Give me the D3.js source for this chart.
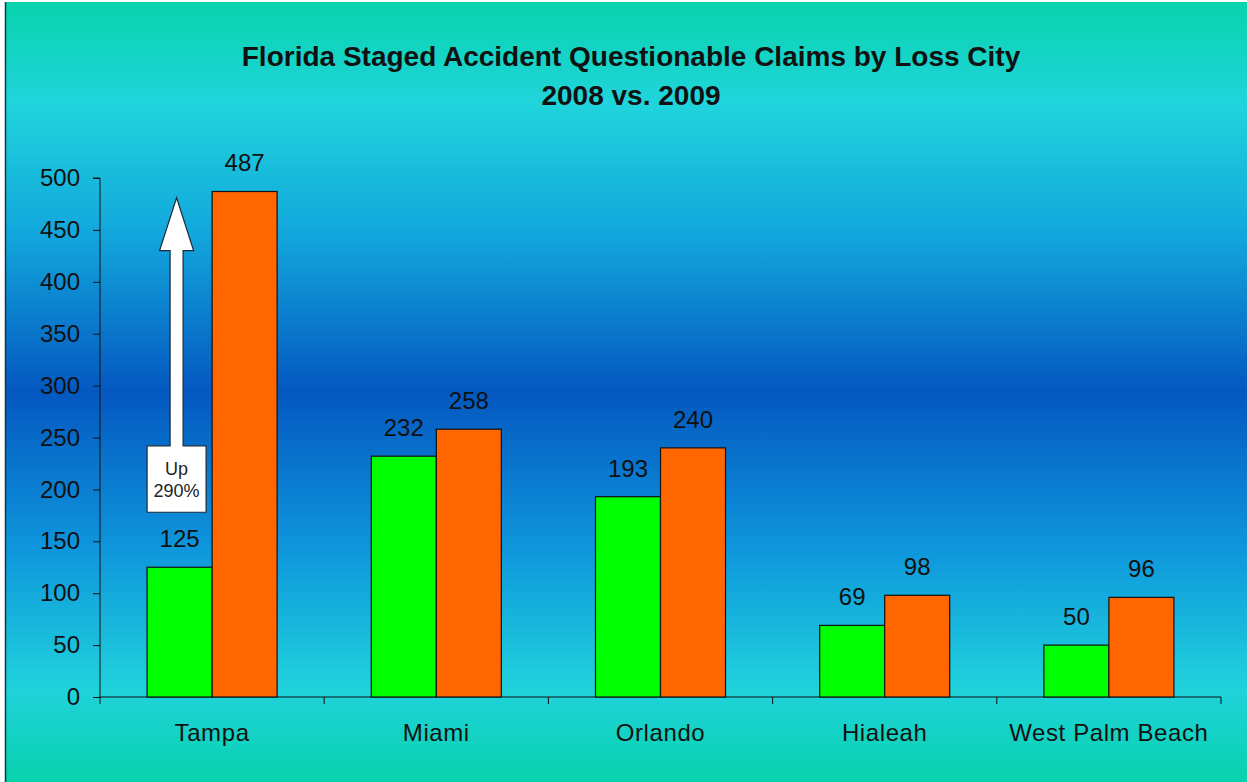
<!DOCTYPE html>
<html>
<head>
<meta charset="utf-8">
<script src="https://cdn.jsdelivr.net/npm/d3@7"></script>
<style>
  html, body { margin: 0; padding: 0; background: #fff; }
  svg { display: block; font-family: Arial, "Liberation Sans", sans-serif; }
</style>
</head>
<body>
<svg id="chart" width="1247" height="782"></svg>
<script>
// Questionable claims per loss city, 2008 vs 2009
const cities = ["Tampa", "Miami", "Orlando", "Hialeah", "West Palm Beach"];
const years = ["2008", "2009"];
const claims2008 = [125, 232, 193, 69, 50];
const claims2009 = [487, 258, 240, 98, 96];
const yTicks = [0, 50, 100, 150, 200, 250, 300, 350, 400, 450, 500];
const titleLines = ["Florida Staged Accident Questionable Claims by Loss City", "2008 vs. 2009"];
const calloutLines = ["Up", "290%"];

const W = 1247, H = 782;
const margin = { left: 100, right: 26, top: 178, bottom: 85 };
const svg = d3.select("#chart");

// Background gradient: teal at the edges, deep blue across the middle
const defs = svg.append("defs");
const grad = defs.append("linearGradient")
  .attr("id", "bg").attr("x1", 0).attr("y1", 0).attr("x2", 0).attr("y2", 1);
[
  [0, "#08d4ac"], [0.13, "#20d4dc"], [0.3, "#12a6dc"], [0.5, "#0458c0"],
  [0.7, "#0e96dc"], [0.88, "#20d2dc"], [1, "#08d2ac"]
].forEach(([o, c]) => grad.append("stop").attr("offset", o).attr("stop-color", c));

svg.append("rect").attr("x", 5).attr("y", 2).attr("width", W - 5).attr("height", H - 2)
  .attr("fill", "url(#bg)");
svg.append("line").attr("x1", 5.5).attr("x2", 5.5).attr("y1", 2).attr("y2", H)
  .attr("stroke", "#0a3a4a").attr("stroke-width", 1.5);

const x0 = d3.scaleBand().domain(cities)
  .range([margin.left, W - margin.right]).paddingInner(0.42).paddingOuter(0.21);
const x1 = d3.scaleBand().domain(years).range([0, x0.bandwidth()]);
const y = d3.scaleLinear().domain([0, 500]).range([H - margin.bottom, margin.top]);

// Title
svg.append("text").attr("x", 631).attr("y", 66).attr("text-anchor", "middle")
  .attr("font-size", 28).attr("font-weight", "bold").attr("fill", "#111")
  .text(titleLines[0]);
svg.append("text").attr("x", 631).attr("y", 105).attr("text-anchor", "middle")
  .attr("font-size", 28).attr("font-weight", "bold").attr("fill", "#111")
  .text(titleLines[1]);

// Y axis
const yAxis = d3.axisLeft(y).tickValues(yTicks).tickSize(7).tickPadding(13);
const gy = svg.append("g").attr("transform", `translate(${margin.left},0)`).call(yAxis);
gy.select(".domain").attr("stroke", "#111").attr("d", `M-7,${y(500)}H0V${y(0)}`);
gy.selectAll(".tick line").attr("stroke", "#111");
gy.selectAll(".tick text").attr("font-size", 24).attr("fill", "#111")
  .attr("font-family", "Arial, 'Liberation Sans', sans-serif");

// X axis with boundary ticks between categories
const gx = svg.append("g").attr("transform", `translate(0,${y(0)})`);
gx.append("line").attr("x1", margin.left).attr("x2", W - margin.right)
  .attr("stroke", "#111").attr("stroke-width", 1);
const step = x0.step();
const bounds = d3.range(cities.length + 1).map(i => margin.left + i * step);
gx.selectAll(".bt").data(bounds).join("line")
  .attr("x1", d => d).attr("x2", d => d).attr("y1", 0).attr("y2", 7)
  .attr("stroke", "#111");
gx.selectAll(".cl").data(cities).join("text")
  .attr("x", d => x0(d) + x0.bandwidth() / 2).attr("y", 44)
  .attr("text-anchor", "middle").attr("font-size", 24).attr("letter-spacing", 0.6)
  .attr("fill", "#111")
  .text(d => d);

// Bars
const rows = cities.map((c, i) => ({ city: c, vals: [claims2008[i], claims2009[i]] }));
const colors = { "2008": "#00ff00", "2009": "#ff6600" };
const groups = svg.selectAll(".grp").data(rows).join("g")
  .attr("transform", d => `translate(${x0(d.city)},0)`);
groups.selectAll("rect").data(d => years.map((yr, j) => ({ yr, v: d.vals[j] }))).join("rect")
  .attr("x", d => x1(d.yr)).attr("width", x1.bandwidth())
  .attr("y", d => y(d.v)).attr("height", d => y(0) - y(d.v))
  .attr("fill", d => colors[d.yr]).attr("stroke", "#111").attr("stroke-width", 1.2);
groups.selectAll(".val").data(d => years.map((yr, j) => ({ yr, v: d.vals[j] }))).join("text")
  .attr("x", d => x1(d.yr) + x1.bandwidth() / 2).attr("y", d => y(d.v) - 20)
  .attr("text-anchor", "middle").attr("font-size", 24).attr("fill", "#111")
  .text(d => d.v);

// Callout arrow for Tampa growth
const ax = x0("Tampa") + x1("2008") + x1.bandwidth() / 2 - 3;
const tipY = y(481), headBase = y(430), boxTop = y(242), boxBot = y(178);
const shaftW = 13, headW = 34, boxW = 59;
svg.append("path")
  .attr("d", `M${ax},${tipY} L${ax + headW / 2},${headBase} L${ax + shaftW / 2},${headBase}
    L${ax + shaftW / 2},${boxTop} L${ax + boxW / 2},${boxTop} L${ax + boxW / 2},${boxBot}
    L${ax - boxW / 2},${boxBot} L${ax - boxW / 2},${boxTop} L${ax - shaftW / 2},${boxTop}
    L${ax - shaftW / 2},${headBase} L${ax - headW / 2},${headBase} Z`)
  .attr("fill", "#fff").attr("stroke", "#1a2a3a").attr("stroke-width", 1.2);
svg.append("text").attr("x", ax).attr("y", boxTop + 29).attr("text-anchor", "middle")
  .attr("font-size", 18).attr("fill", "#222").text(calloutLines[0]);
svg.append("text").attr("x", ax).attr("y", boxTop + 51).attr("text-anchor", "middle")
  .attr("font-size", 18).attr("fill", "#222").text(calloutLines[1]);
</script>
</body>
</html>
